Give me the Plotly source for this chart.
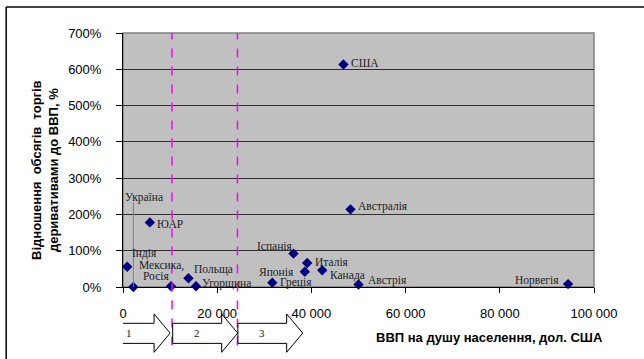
import plotly.graph_objects as go

# ---- data ----
countries = ["США", "Австралія", "Австрія", "Канада", "Италія", "Японія", "Іспанія",
             "Греція", "Угорщина", "Польща", "Мексика,<br>Росія", "Україна", "Індія",
             "ЮАР", "Норвегія"]
gdp_per_capita = [46800, 48300, 50000, 42300, 39100, 38600, 36200,
                  31700, 15500, 13900, 10200, 2200, 900, 5700, 94500]
deriv_to_gdp = [6.13, 2.14, 0.07, 0.46, 0.66, 0.42, 0.92,
                0.12, 0.02, 0.24, 0.02, 0.0, 0.56, 1.78, 0.08]
x_ticks = [0, 20000, 40000, 60000, 80000, 100000]
y_ticks = [0, 1, 2, 3, 4, 5, 6, 7]
boundaries = [10400, 24300]
stage_labels = ["1", "2", "3"]
stage_starts = [-4000, 10550, 24400]
stage_ends = [10000, 24350, 38150]

# label placement styles, one tuple per text line: (xanchor, xshift, yshift)
label_style = [
    [("left", 7, 2)], [("left", 7, 3)], [("left", 8, 4)], [("left", 7, -5)], [("left", 7, 1)],
    [("right", -10, 0)], [("right", 0, 8)], [("left", 7, 0)], [("left", 5, 3)], [("left", 5, 9)],
    [("left", -33, 21), ("left", -29, 10)], [("center", 11, 90)], [("left", 4, 13)],
    [("left", 6, -2)], [("right", -8, 4)],
]

SERIF = "Liberation Serif"
SANS = "Liberation Sans"

fig = go.Figure()
fig.add_trace(go.Scatter(
    x=gdp_per_capita, y=deriv_to_gdp, mode="markers",
    marker=dict(symbol="diamond", size=8, color="#000080"),
    cliponaxis=False, showlegend=False, hoverinfo="skip"))

annotations = []
for name, xv, yv, styles in zip(countries, gdp_per_capita, deriv_to_gdp, label_style):
    for line, (xa, xs, ys) in zip(name.split("<br>"), styles):
        annotations.append(dict(x=xv, y=yv, xref="x", yref="y", text=line, showarrow=False,
                                xanchor=xa, yanchor="middle", xshift=xs, yshift=ys, borderpad=0,
                                font=dict(family=SERIF, size=11.5, color="#222222")))

shapes = []
# leader line for Україна
ua = countries.index("Україна")
shapes.append(dict(type="line", xref="x", yref="y", x0=gdp_per_capita[ua], x1=gdp_per_capita[ua],
                   y0=deriv_to_gdp[ua], y1=deriv_to_gdp[ua] + 2.33,
                   line=dict(color="#808080", width=1)))

# plot border
shapes.append(dict(type="rect", xref="paper", yref="paper", x0=0, x1=1, y0=0, y1=1,
                   line=dict(color="#808080", width=1.5), layer="below"))

# dashed boundaries
for b in boundaries:
    shapes.append(dict(type="line", xref="x", yref="paper", x0=b, x1=b, y0=-0.23, y1=1,
                       line=dict(color="#FF00FF", width=1.5, dash="dash")))

# stage arrows
head_len = 3400
yb_top, yb_bot, yh_top, yh_bot = -0.143, -0.222, -0.106, -0.257
y_mid = (yh_top + yh_bot) / 2
for s, e, lab in zip(stage_starts, stage_ends, stage_labels):
    h = e - head_len
    path = (f"M {s},{yb_top} L {h},{yb_top} L {h},{yh_top} L {e},{y_mid} "
            f"L {h},{yh_bot} L {h},{yb_bot} L {s},{yb_bot} Z")
    shapes.append(dict(type="path", xref="x", yref="paper", path=path,
                       fillcolor="white", line=dict(color="black", width=1), layer="above"))
    annotations.append(dict(x=(s + h) / 2, y=y_mid, xref="x", yref="paper", text=lab,
                            showarrow=False, xanchor="center", yanchor="middle",
                            font=dict(family=SERIF, size=11, color="#222222")))

# outer frame
shapes.append(dict(type="line", xref="paper", yref="paper", x0=-0.248, x1=-0.248, y0=-0.5, y1=1.102,
                   line=dict(color="black", width=1.5)))
shapes.append(dict(type="line", xref="paper", yref="paper", x0=-0.248, x1=1.2, y0=1.102, y1=1.102,
                   line=dict(color="black", width=1.5)))

# axis titles
annotations.append(dict(x=-0.166, y=0.46, xref="paper", yref="paper",
                        text="<b>Відношення  обсягів  торгів<br>деривативами до ВВП, %</b>",
                        textangle=-90, showarrow=False, xanchor="center", yanchor="middle",
                        font=dict(family=SANS, size=13, color="black")))
annotations.append(dict(x=0.779, y=-0.197, xref="paper", yref="paper",
                        text="<b>ВВП на душу населення, дол. США</b>",
                        showarrow=False, xanchor="center", yanchor="middle",
                        font=dict(family=SANS, size=13, color="black")))

fig.update_layout(
    width=644, height=359,
    margin=dict(l=123, r=50, t=33, b=72),
    paper_bgcolor="white", plot_bgcolor="#C0C0C0",
    separators=". ",
    shapes=shapes, annotations=annotations,
    xaxis=dict(range=[0, 100000], tickvals=x_ticks, tickformat=",d",
               showgrid=False, zeroline=False, showline=True, linecolor="black", linewidth=1,
               ticks="outside", ticklen=5, tickcolor="black", ticklabelstandoff=9,
               tickfont=dict(family=SANS, size=13, color="black"), fixedrange=True),
    yaxis=dict(range=[0, 7], tickvals=y_ticks, tickformat=".0%",
               showgrid=True, gridcolor="#303030", gridwidth=1, zeroline=False,
               showline=True, linecolor="black", linewidth=1,
               ticks="outside", ticklen=6, tickcolor="black", ticklabelstandoff=12,
               tickfont=dict(family=SANS, size=13, color="black"), fixedrange=True),
)

fig.write_html("out.html", config={"displayModeBar": False},
               post_script="document.body.style.margin='0px';document.body.style.overflow='hidden';")
